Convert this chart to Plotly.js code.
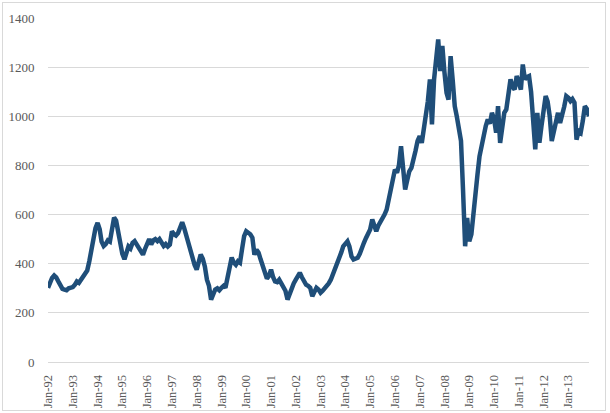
<!DOCTYPE html>
<html>
<head>
<meta charset="utf-8">
<script src="https://cdn.plot.ly/plotly-3.0.1.min.js"></script>
<style>
html,body{margin:0;padding:0;background:#fff;}
#wrap{position:relative;width:610px;height:413px;}
#chart{width:610px;height:413px;}
#frame{position:absolute;left:2px;top:2px;width:602px;height:407px;border:1px solid #d9d9d9;pointer-events:none;}
</style>
</head>
<body>
<div id="wrap"><div id="chart"></div><div id="frame"></div></div>
<script>
// Monthly series, Jan-1992 .. Nov-2013
const startYear = 1992;
const values = [
  // 1992
  302, 325, 342, 352, 344, 328, 310, 298, 295, 292, 300, 303,
  // 1993
  305, 315, 328, 322, 335, 345, 360, 372, 410, 455, 500, 545,
  // 1994
  566, 540, 490, 472, 480, 495, 490, 545, 588, 575, 530, 480,
  // 1995
  440, 418, 445, 470, 462, 485, 492, 478, 465, 448, 437, 460,
  // 1996
  485, 500, 478, 495, 500, 492, 500, 485, 472, 480, 470, 478,
  // 1997
  532, 520, 515, 525, 545, 569, 545, 512, 490, 455, 425, 395,
  // 1998
  376, 410, 437, 420, 389, 335, 310, 254, 275, 295, 300, 292,
  // 1999
  302, 310, 302, 340, 389, 425, 405, 396, 410, 404, 460, 512,
  // 2000
  532, 525, 520, 506, 437, 457, 445, 417, 395, 363, 340, 350,
  // 2001
  376, 345, 328, 325, 335, 320, 300, 290, 254, 280, 308, 320,
  // 2002
  335, 350, 363, 345, 330, 315, 310, 302, 268, 285, 302, 295,
  // 2003
  282, 290, 298, 308, 320, 335, 356, 372, 403, 420, 445, 471,
  // 2004
  482, 491, 470, 430, 417, 420, 424, 440, 470, 485, 505, 520,
  // 2005
  539, 580, 550, 532, 555, 570, 580, 600, 620, 661, 700, 760,
  // 2006
  783, 770, 800, 878, 760, 702, 740, 776, 790, 837, 860, 900,
  // 2007
  919, 892, 940, 1000, 1060, 1150, 967, 1150, 1240, 1313, 1184, 1286,
  // 2008
  1180, 1096, 1068, 1245, 1150, 1041, 1000, 960, 900, 700, 471, 586,
  // 2009
  491, 520, 607, 715, 760, 837, 880, 920, 960, 987, 970, 1014,
  // 2010
  990, 933, 1041, 892, 960, 1014, 1028, 1100, 1150, 1120, 1109, 1164,
  // 2011
  1140, 1109, 1211, 1150, 1160, 1164, 1100, 973, 865, 1014, 892, 960,
  // 2012
  1040, 1082, 1060, 1000, 899, 940, 980, 1014, 973, 1000, 1040, 1082,
  // 2013
  1075, 1062, 1070, 1055, 905, 940, 933, 980, 1041, 1030, 1000
];
const tickYears = [1992,1993,1994,1995,1996,1997,1998,1999,2000,2001,2002,2003,2004,2005,2006,2007,2008,2009,2010,2011,2012,2013];
const tickLabels = ['Jan-92','Jan-93','Jan-94','Jan-95','Jan-96','Jan-97','Jan-98','Jan-99','Jan-00','Jan-01','Jan-02','Jan-03','Jan-04','Jan-05','Jan-06','Jan-07','Jan-08','Jan-09','Jan-10','Jan-11','Jan-12','Jan-13'];
const yTicks = [0,200,400,600,800,1000,1200,1400];

function pad(n){return (n<10?'0':'')+n;}
const dates = values.map((v,i)=>{
  const y = startYear + Math.floor(i/12);
  const m = (i%12)+1;
  return y+'-'+pad(m)+'-01';
});
const tickVals = tickYears.map(y=>y+'-01-01');

const trace = {
  x: dates, y: values, type:'scatter', mode:'lines',
  line:{color:'#1f4e79', width:4.5, shape:'linear'},
  hoverinfo:'skip'
};
const font = {family:'"Liberation Serif", "Times New Roman", serif', color:'#595959', size:13};
const layout = {
  width:610, height:413,
  margin:{l:48, r:21, t:18, b:51, pad:0},
  paper_bgcolor:'#ffffff', plot_bgcolor:'#ffffff',
  showlegend:false,
  font:font,
  xaxis:{
    type:'date',
    range:[dates[0], dates[dates.length-1]],
    tickmode:'array', tickvals:tickVals, ticktext:tickLabels,
    tickangle:-90,
    tickfont:{family:font.family, color:'#595959', size:12.5},
    showgrid:false, zeroline:false,
    showline:true, linecolor:'#d9d9d9', linewidth:1,
    ticks:'outside', ticklen:7, tickcolor:'rgba(0,0,0,0)'
  },
  yaxis:{
    range:[0,1400],
    tickmode:'array', tickvals:yTicks, ticktext:yTicks.map(String),
    tickfont:{family:font.family, color:'#595959', size:13},
    showgrid:true, gridcolor:'#d9d9d9', gridwidth:1,
    zeroline:false, showline:false,
    ticks:'outside', ticklen:10, tickcolor:'rgba(0,0,0,0)'
  }
};
Plotly.newPlot('chart', [trace], layout, {staticPlot:true, displayModeBar:false});
</script>
</body>
</html>
